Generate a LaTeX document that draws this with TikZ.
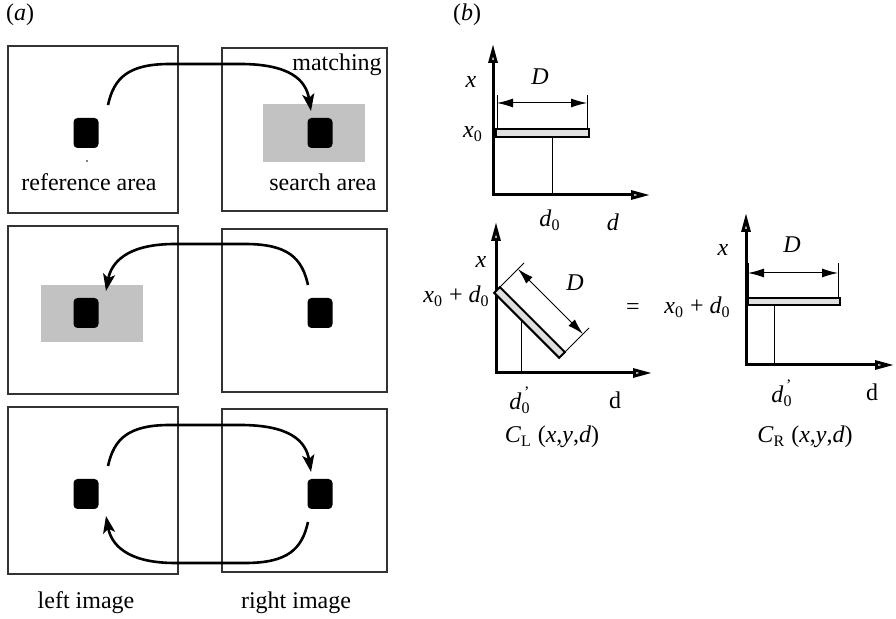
\documentclass[tikz,border=0pt]{standalone}
\usepackage{fontspec}
\setmainfont{Liberation Serif}
\usetikzlibrary{arrows.meta, calc}
\tikzstyle{imagebox} = [
    draw=black!80,
    line width=0.6pt,
    inner sep=0pt
]
\tikzstyle{feature} = [
    fill=black,
    rounded corners=2pt,
    minimum width=12.5pt,
    minimum height=15pt,
    inner sep=0pt
]
\tikzstyle{searchzone} = [
    fill=black!24,
    inner sep=0pt
]
\tikzstyle{bar} = [
    draw=black,
    line width=1pt,
    fill=black!12,
    inner sep=0pt,
    minimum width=46.5pt,
    minimum height=4pt
]
\tikzstyle{lbl} = [inner sep=0pt, font=\fontsize{12}{14}\selectfont]
\tikzstyle{arrow} = [line width=1.3pt, -{Stealth[length=8.5pt,width=6pt,inset=2pt]}]
\tikzstyle{axis} = [line width=1.5pt,
    {Triangle[open,length=9.5pt,width=4.5pt]}-{Triangle[open,length=9.5pt,width=4.5pt]}]
\tikzstyle{dimline} = [line width=0.5pt,
    {Latex[length=8pt,width=4.5pt]}-{Latex[length=8pt,width=4.5pt]}]
\tikzstyle{extline} = [line width=0.5pt]
\newcommand{\dprime}{\textit{d}\rlap{\raisebox{2pt}{\textsuperscript{\,'}}}\textsubscript{0}}

\begin{document}
\begin{tikzpicture}[x=0.5pt, y=-0.5pt]
\useasboundingbox (0,0) rectangle (896,619);

% (a) left and right images
\node[lbl] (laba) at (20,15) {(\textit{a})};

\node (L1) [imagebox, minimum width=85pt, minimum height=83.5pt] at (93,129.5) {};
\node (R1) [imagebox, minimum width=82.5pt, minimum height=81.5pt] at (304.5,129.5) {};
\node (L2) [imagebox, minimum width=85pt, minimum height=84pt] at (93,310) {};
\node (R2) [imagebox, minimum width=82.5pt, minimum height=81.5pt] at (304.5,310.5) {};
\node (L3) [imagebox, minimum width=85pt, minimum height=83.5pt] at (93,490.5) {};
\node (R3) [imagebox, minimum width=82.5pt, minimum height=81.5pt] at (304.5,490.5) {};

\node (zone1) [searchzone, minimum width=51pt, minimum height=29pt] at (314,133) {};
\node (zone2) [searchzone, minimum width=51pt, minimum height=28.5pt] at (92,313.5) {};

\node (fL1) [feature] at (86,133) {};
\node (fR1) [feature] at (320,133) {};
\node (fL2) [feature] at (86,313) {};
\node (fR2) [feature] at (320,313) {};
\node (fL3) [feature] at (86,494) {};
\node (fR3) [feature] at (320,494) {};
\fill (87,161) circle (0.4pt);

\node[lbl] (match) at (337,65) {matching};
\node[lbl] (refarea) at (89,182) {reference area};
\node[lbl] (srcharea) at (323,182) {search area};
\node[lbl] (leftimg) at (86,603) {left image};
\node[lbl] (rightimg) at (296,603) {right image};

% matching arrows
\coordinate (m1s) at (108,105);
\coordinate (m1e) at (311,111);
\coordinate (m2s) at (308,285);
\coordinate (m2e) at (106,291);
\coordinate (m3s) at (108,466);
\coordinate (m3e) at (311,472);
\coordinate (m4s) at (308,522);
\coordinate (m4e) at (106,516);

\draw [arrow] (m1s) .. controls (114,78) and (128,64) .. (170,64) -- (240,64)
    .. controls (290,64) and (306,80) .. (m1e);
\draw [arrow] (m2s) .. controls (302,258) and (288,244) .. (245,244) -- (175,244)
    .. controls (125,244) and (111,264) .. (m2e);
\draw [arrow] (m3s) .. controls (114,439) and (128,425) .. (170,425) -- (240,425)
    .. controls (290,425) and (306,441) .. (m3e);
\draw [arrow] (m4s) .. controls (302,549) and (288,563) .. (245,563) -- (175,563)
    .. controls (125,563) and (111,543) .. (m4e);

% (b) cost function plots
\node[lbl] (labb) at (467,15) {(\textit{b})};

% top plot
\coordinate (o1) at (493,195);
\coordinate (x1) at (493,44);
\coordinate (d1) at (650,195);
\draw [axis] (x1) -- (o1) -- (d1);
\node (bar1) [bar] at (542.5,133) {};
\coordinate (p1) at (552,195);
\draw [extline] (bar1.south -| p1) -- (p1);
\draw [extline] (497,95) -- (497,129);
\draw [extline] (587,95) -- (587,129);
\draw [dimline] (497,103) -- (587,103);
\node[lbl] (x1lbl) at (471,82) {\textit{x}};
\node[lbl] (D1lbl) at (540,77) {\textit{D}};
\node[lbl] (x01lbl) at (473,134) {\textit{x}\textsubscript{0}};
\node[lbl] (d01lbl) at (550,220) {\textit{d}\textsubscript{0}};
\node[lbl] (d1lbl) at (613,222) {\textit{d}};

% left plot, C_L
\coordinate (o2) at (496,373);
\coordinate (x2) at (496,222);
\coordinate (d2) at (652,373);
\draw [axis] (x2) -- (o2) -- (d2);
\node (bar2) [bar, minimum width=46pt, rotate=-45] at (529.5,322.5) {};
\coordinate (p2) at (521,373);
\draw [extline] (521,319) -- (p2);
\draw [extline] (497,290) -- (524,263);
\draw [extline] (562,355) -- (589,328);
\draw [dimline] (518,269) -- (583,334);
\node[lbl] (x2lbl) at (481,262) {\textit{x}};
\node[lbl, anchor=east] (x02lbl) at (490,296)
    {\textit{x}\textsubscript{0} + \textit{d}\textsubscript{0}};
\node[lbl] (D2lbl) at (575,283) {\textit{D}};
\node[lbl] (d02lbl) at (520,400) {\dprime};
\node[lbl] (d2lbl) at (615,400) {d};
\node[lbl] (CL) at (552,437) {\textit{C}\textsubscript{L} (\textit{x},\textit{y},\textit{d})};

\node[lbl] (eq) at (633,309) {=};

% right plot, C_R
\coordinate (o3) at (746,365);
\coordinate (x3) at (746,213);
\coordinate (d3) at (894,365);
\draw [axis] (x3) -- (o3) -- (d3);
\node (bar3) [bar, minimum width=46pt, minimum height=3.5pt] at (794,302) {};
\coordinate (p3) at (774,365);
\draw [extline] (bar3.south -| p3) -- (p3);
\draw [extline] (748,263) -- (748,299);
\draw [extline] (838,263) -- (838,299);
\draw [dimline] (748,273) -- (838,273);
\node[lbl] (x3lbl) at (723,250) {\textit{x}};
\node[lbl] (D3lbl) at (792,245) {\textit{D}};
\node[lbl, anchor=east] (x03lbl) at (731,307)
    {\textit{x}\textsubscript{0} + \textit{d}\textsubscript{0}};
\node[lbl] (d03lbl) at (782,393) {\dprime};
\node[lbl] (d3lbl) at (872,392) {d};
\node[lbl] (CR) at (805,437) {\textit{C}\textsubscript{R} (\textit{x},\textit{y},\textit{d})};

\end{tikzpicture}
\end{document}
